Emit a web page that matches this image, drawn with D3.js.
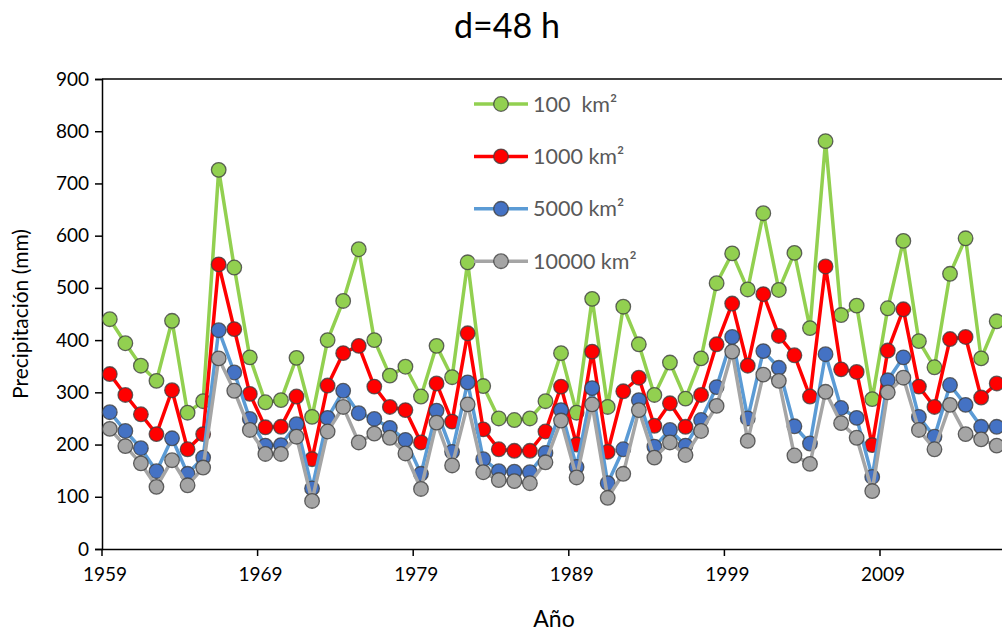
<!DOCTYPE html>
<html>
<head>
<meta charset="utf-8">
<script src="https://cdn.jsdelivr.net/npm/d3@7"></script>
<style>
  body { margin: 0; background: #fff; }
  svg { display: block; font-family: Lato, "Open Sans", sans-serif; }
</style>
</head>
<body>
<div id="chart"></div>
<script>
// años 1959-2016
var years = d3.range(1959, 2017);

var serie100 = [440, 394, 351, 322, 437, 261, 283, 726, 539, 367,
    281, 285, 366, 253, 400, 475, 574, 400, 332, 349,
    292, 389, 329, 549, 312, 250, 247, 250, 283, 375,
    261, 479, 272, 464, 392, 295, 357, 288, 365, 509,
    566, 497, 643, 496, 567, 423, 781, 448, 466, 287,
    461, 590, 398, 348, 527, 595, 365, 436];
var serie1000 = [335, 295, 258, 220, 304, 191, 220, 545, 421, 297,
    233, 234, 292, 172, 313, 375, 389, 311, 272, 266,
    204, 317, 244, 413, 229, 191, 188, 188, 225, 311,
    200, 378, 186, 302, 328, 236, 279, 234, 295, 392,
    470, 351, 488, 408, 371, 292, 541, 344, 339, 199,
    380, 459, 311, 272, 402, 406, 290, 317];
var serie5000 = [262, 226, 193, 149, 212, 144, 175, 419, 338, 249,
    198, 199, 239, 116, 251, 303, 260, 249, 232, 209,
    144, 265, 186, 319, 172, 149, 148, 147, 184, 266,
    157, 308, 126, 191, 285, 196, 228, 198, 247, 310,
    406, 250, 379, 347, 235, 202, 373, 270, 251, 138,
    323, 367, 253, 215, 314, 276, 234, 234];
var serie10000 = [230, 197, 164, 119, 170, 122, 156, 365, 303, 228,
    182, 182, 215, 92, 225, 272, 204, 221, 213, 183,
    115, 242, 160, 277, 147, 132, 130, 126, 166, 246,
    137, 277, 98, 144, 266, 175, 204, 180, 226, 274,
    378, 207, 334, 322, 179, 163, 301, 241, 213, 111,
    300, 328, 228, 191, 276, 220, 210, 198];

var seriesNames = ["100  km\u00b2", "1000 km\u00b2", "5000 km\u00b2", "10000 km\u00b2"];
var yTicks = [0, 100, 200, 300, 400, 500, 600, 700, 800, 900];
var xTickYears = [1959, 1969, 1979, 1989, 1999, 2009];

var series = [
    { name: seriesNames[0], values: serie100, line: "#92d050", fill: "#92d050" },
    { name: seriesNames[1], values: serie1000, line: "#ff0000", fill: "#ff0000" },
    { name: seriesNames[2], values: serie5000, line: "#5b9bd5", fill: "#4472c4" },
    { name: seriesNames[3], values: serie10000, line: "#a5a5a5", fill: "#a5a5a5" }
];

var W = 1002, H = 635;
var plotLeft = 102, plotTop = 79, plotBottom = 549;
var step = 15.56;
var plotRight = plotLeft + years.length * step;

var svg = d3.select("#chart").append("svg")
    .attr("width", W)
    .attr("height", H);

var x = d3.scaleBand()
    .domain(years)
    .range([plotLeft, plotRight])
    .padding(0);
var y = d3.scaleLinear()
    .domain([0, 900])
    .range([plotBottom, plotTop]);

function px(d, i) { return x(years[i]) + x.bandwidth() / 2; }

// titulo
svg.append("text")
    .attr("x", 507)
    .attr("y", 38)
    .attr("text-anchor", "middle")
    .attr("font-size", 34)
    .attr("fill", "#000")
    .text("d=48 h");

// borde superior del area de trazado
svg.append("line")
    .attr("x1", plotLeft).attr("x2", plotRight)
    .attr("y1", plotTop).attr("y2", plotTop)
    .attr("stroke", "#000")
    .attr("stroke-width", 1.5);

// eje Y
var yAxis = svg.append("g")
    .attr("transform", "translate(" + plotLeft + ",0)")
    .call(d3.axisLeft(y).tickValues(yTicks).tickSize(7).tickPadding(6).tickFormat(d3.format("d")));
yAxis.selectAll("text").attr("font-size", 19).attr("fill", "#000").attr("font-family", "Lato, sans-serif");
yAxis.selectAll("line, path").attr("stroke", "#000").attr("stroke-width", 1.5);

// eje X (marcas entre categorias)
var xAxis = svg.append("g")
    .attr("transform", "translate(0," + plotBottom + ")")
    .call(d3.axisBottom(x).tickValues(xTickYears).tickSize(7).tickPadding(12).tickSizeOuter(0));
xAxis.selectAll(".tick").attr("transform", function (d) { return "translate(" + x(d) + ",0)"; });
xAxis.selectAll("text").attr("font-size", 19).attr("fill", "#000").attr("font-family", "Lato, sans-serif")
    .attr("dx", 3);
xAxis.selectAll("line, path").attr("stroke", "#000").attr("stroke-width", 1.5);

// titulos de ejes
svg.append("text")
    .attr("transform", "translate(28," + ((plotTop + plotBottom) / 2) + ") rotate(-90)")
    .attr("text-anchor", "middle")
    .attr("font-size", 21)
    .attr("fill", "#000")
    .text("Precipitación (mm)");
svg.append("text")
    .attr("x", 554)
    .attr("y", 627)
    .attr("text-anchor", "middle")
    .attr("font-size", 23)
    .attr("fill", "#000")
    .text("Año");

// series
var line = d3.line()
    .x(px)
    .y(function (d) { return y(d); });

var plot = svg.append("g");
series.forEach(function (s) {
    var g = plot.append("g");
    g.append("path")
        .datum(s.values)
        .attr("d", line)
        .attr("fill", "none")
        .attr("stroke", s.line)
        .attr("stroke-width", 3.5)
        .attr("stroke-linejoin", "round");
    g.selectAll("circle")
        .data(s.values)
        .enter()
        .append("circle")
        .attr("cx", px)
        .attr("cy", function (d) { return y(d); })
        .attr("r", 7.3)
        .attr("fill", s.fill)
        .attr("stroke", "#3f3f3f")
        .attr("stroke-opacity", 0.8)
        .attr("stroke-width", 1.3);
});

// leyenda
var legend = svg.append("g").attr("transform", "translate(474,104)");
var rows = legend.selectAll("g")
    .data(series)
    .enter()
    .append("g")
    .attr("transform", function (d, i) { return "translate(0," + (i * 52.4) + ")"; });
rows.append("line")
    .attr("x1", 0).attr("x2", 54)
    .attr("stroke", function (d) { return d.line; })
    .attr("stroke-width", 3.5);
rows.append("circle")
    .attr("cx", 27)
    .attr("r", 7.3)
    .attr("fill", function (d) { return d.fill; })
    .attr("stroke", "#3f3f3f")
    .attr("stroke-opacity", 0.8)
    .attr("stroke-width", 1.3);
rows.append("text")
    .attr("x", 59)
    .attr("y", 7.5)
    .attr("font-size", 21.5)
    .attr("fill", "#595959")
    .attr("xml:space", "preserve")
    .style("white-space", "pre")
    .text(function (d) { return d.name; });
</script>
</body>
</html>
